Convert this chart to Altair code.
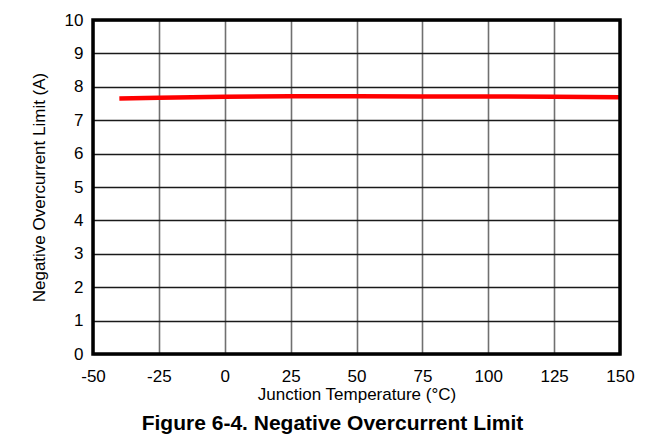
import altair as alt
import pandas as pd

temps = [-40, -25, 0, 25, 50, 75, 100, 125, 150]
limit = [7.65, 7.67, 7.70, 7.72, 7.72, 7.71, 7.71, 7.70, 7.69]
x_ticks = [-50, -25, 0, 25, 50, 75, 100, 125, 150]
y_ticks = [0, 1, 2, 3, 4, 5, 6, 7, 8, 9, 10]

FONT = "Liberation Sans"
W, H = 527, 334

df = pd.DataFrame({"t": temps, "a": limit})

x_enc = alt.X(
    "t:Q",
    scale=alt.Scale(domain=[-50, 150], nice=False, zero=False),
    axis=alt.Axis(
        values=x_ticks, title="Junction Temperature (°C)", grid=True,
        gridColor="#707070", gridWidth=1.6, ticks=False, tickSize=0, domain=False,
        labelPadding=14, titlePadding=2, labelFontSize=17, titleFontSize=17,
        labelColor="#000", titleColor="#000", labelFont=FONT, titleFont=FONT,
        titleFontWeight="normal", labelOverlap=False, labelFlush=False,
        labelExpr="toString(datum.value)",
    ),
)
y_enc = alt.Y(
    "a:Q",
    scale=alt.Scale(domain=[0, 10], nice=False),
    axis=alt.Axis(
        values=y_ticks, title="Negative Overcurrent Limit (A)", grid=True,
        gridColor="#1a1a1a", gridWidth=1.3, ticks=False, tickSize=0, domain=False,
        labelPadding=10, titlePadding=16, labelFontSize=17, titleFontSize=17,
        labelColor="#000", titleColor="#000", labelFont=FONT, titleFont=FONT,
        titleFontWeight="normal", labelOverlap=False, labelFlush=False,
        labelExpr="toString(datum.value)",
    ),
)

line = alt.Chart(df).mark_line(color="#ff0000", strokeWidth=4.5).encode(x=x_enc, y=y_enc)

border = alt.Chart(pd.DataFrame({"k": [0]})).mark_rect(
    fill=None, fillOpacity=0, stroke="#000", strokeWidth=3.5
).encode(x=alt.value(0), x2=alt.value(W), y=alt.value(0), y2=alt.value(H))

chart = alt.layer(line, border).properties(
    width=W, height=H,
    autosize=alt.AutoSizeParams(type="none"),
    padding={"left": 85, "top": 12, "right": 35, "bottom": 84},
    title=alt.TitleParams(
        "Figure 6-4. Negative Overcurrent Limit", orient="bottom", anchor="middle",
        font=FONT, fontSize=21, fontWeight="bold", color="#000", offset=11, dx=-24,
    ),
).configure_view(stroke=None).configure(background="white")

chart.save("out.html", embed_options={"renderer": "svg", "actions": False})
